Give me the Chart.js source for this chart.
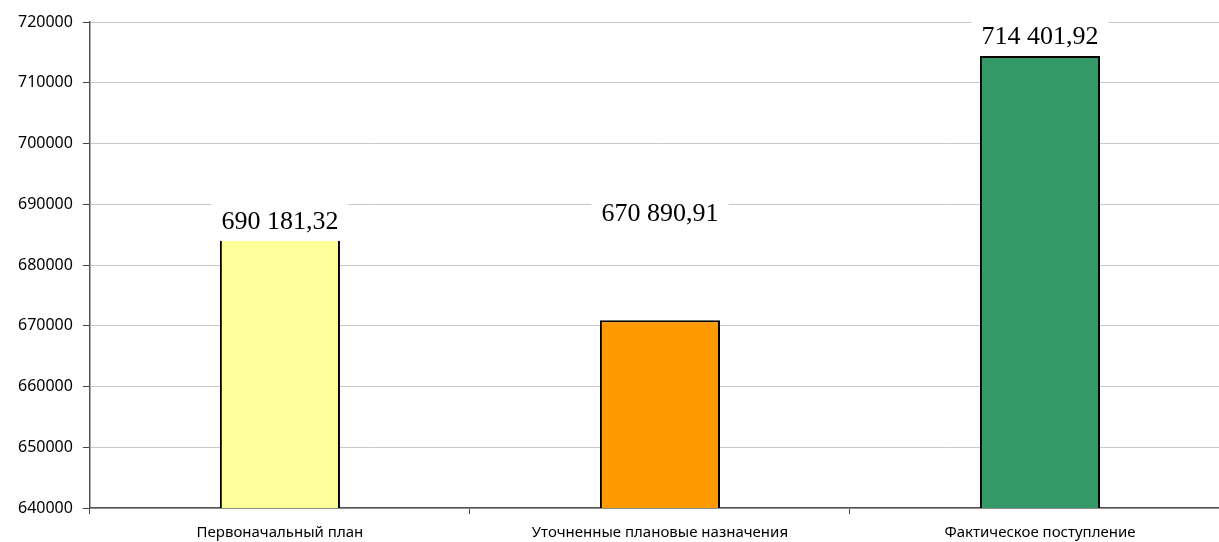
<!DOCTYPE html>
<html>
<head>
<meta charset="utf-8">
<script src="https://cdn.jsdelivr.net/npm/chart.js@4/dist/chart.umd.min.js"></script>
<style>
  html, body { margin: 0; padding: 0; background: #fff; overflow: hidden; }
  #wrap { width: 1230px; height: 542px; }
</style>
</head>
<body>
<div id="wrap"><canvas id="chart"></canvas></div>
<script>
// ==== Data ====
const categories = ["Первоначальный план", "Уточненные плановые назначения", "Фактическое поступление"];
const values = [690181.32, 670890.91, 714401.92];
const valueLabels = ["690 181,32", "670 890,91", "714 401,92"];
const barColors = ["#FFFF99", "#FF9900", "#339966"];

// label centre heights, in axis units (Excel put the first two off their bars)
const labelLevels = [687250, 688550, 717700];

const valueLabelPlugin = {
  id: "valueLabels",
  afterDatasetsDraw(chart) {
    const ctx = chart.ctx;
    const meta = chart.getDatasetMeta(0);
    const y = chart.scales.y;
    ctx.save();
    ctx.font = "26px 'Liberation Serif'";
    ctx.textAlign = "center";
    ctx.textBaseline = "middle";
    meta.data.forEach((bar, i) => {
      const cy = y.getPixelForValue(labelLevels[i]);
      const w = ctx.measureText(valueLabels[i]).width;
      ctx.fillStyle = "#fff";
      ctx.fillRect(bar.x - w / 2 - 10, cy - 21, w + 20, 41);
      ctx.fillStyle = "#000";
      ctx.fillText(valueLabels[i], bar.x, cy + 1);
    });
    ctx.restore();
  }
};

new Chart(document.getElementById("chart").getContext("2d"), {
  type: "bar",
  data: {
    labels: categories,
    datasets: [{
      data: values,
      backgroundColor: barColors,
      borderColor: "#000",
      borderWidth: 2,
      categoryPercentage: 1,
      barPercentage: 0.316
    }]
  },
  options: {
    responsive: true,
    maintainAspectRatio: false,
    animation: false,
    layout: { padding: { top: 22, right: 0, bottom: -10, left: 8 } },
    plugins: {
      legend: { display: false },
      tooltip: { enabled: false }
    },
    scales: {
      x: {
        grid: {
          offset: true,
          drawOnChartArea: false,
          tickLength: 6,
          tickColor: "#444"
        },
        border: { color: "#555", width: 1.5 },
        ticks: {
          color: "#000",
          font: { family: "'Noto Sans'", size: 15 },
          padding: 10
        }
      },
      y: {
        min: 640000,
        max: 720000,
        ticks: {
          stepSize: 10000,
          color: "#000",
          font: { family: "'Noto Sans'", size: 16 },
          padding: 10,
          callback: v => String(v)
        },
        grid: {
          color: "#c8c8c8",
          tickColor: "#444",
          tickLength: 7,
          lineWidth: 1
        },
        border: { color: "#555", width: 1.5 }
      }
    }
  },
  plugins: [valueLabelPlugin]
});
</script>
</body>
</html>
